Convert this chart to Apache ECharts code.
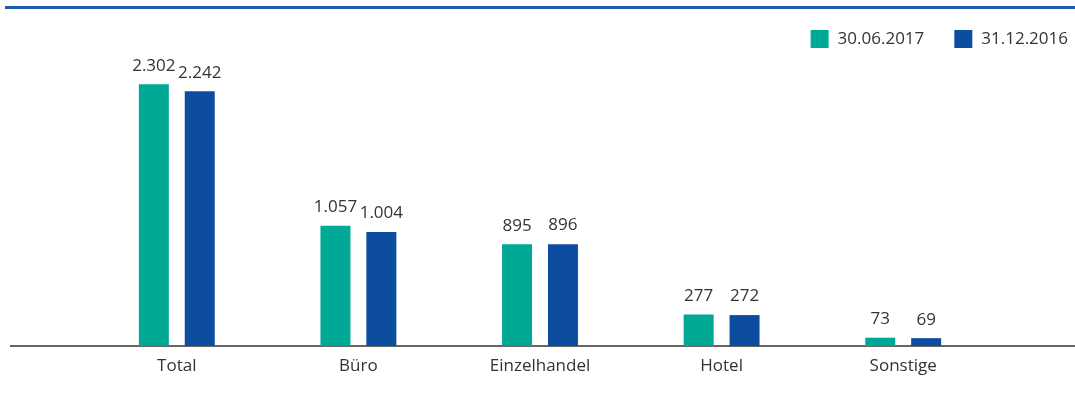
<!DOCTYPE html>
<html>
<head>
<meta charset="utf-8">
<script src="https://cdn.jsdelivr.net/npm/echarts@6/dist/echarts.min.js"></script>
<style>
    html, body { margin: 0; padding: 0; background: #fff; }
    #chart { width: 1075px; height: 405px; }
</style>
</head>
<body>
<div id="chart"></div>
<script>
const categories = ['Total', 'Büro', 'Einzelhandel', 'Hotel', 'Sonstige'];
const seriesNames = ['30.06.2017', '31.12.2016'];
const values2017 = [2302, 1057, 895, 277, 73];
const values2016 = [2242, 1004, 896, 272, 69];

const TEAL = '#00a995';
const BLUE = '#0d4da0';
const FONT = 'Open Sans';

// German thousands separator, e.g. 2302 -> 2.302
function formatDe(value) {
    return String(value).replace(/\B(?=(\d{3})+(?!\d))/g, '.');
}

const chart = echarts.init(document.getElementById('chart'));

const labelStyle = {
    show: true,
    position: 'top',
    distance: 10,
    color: '#333',
    fontSize: 17,
    fontFamily: FONT,
    formatter: params => formatDe(params.value)
};

const option = {
    animation: false,
    textStyle: { fontFamily: FONT },
    legend: {
        top: 25,
        right: 2,
        itemWidth: 18,
        itemHeight: 18,
        itemGap: 30,
        icon: 'rect',
        textStyle: { color: '#333', fontSize: 17, fontFamily: FONT, padding: [0, 0, 0, 4] }
    },
    grid: {
        left: 86,
        right: 81,
        top: 5,
        bottom: 59
    },
    xAxis: {
        type: 'category',
        data: categories,
        axisLine: { show: false },
        axisTick: { show: false },
        axisLabel: {
            margin: 12,
            color: '#333',
            fontSize: 17,
            fontFamily: FONT
        }
    },
    yAxis: {
        type: 'value',
        min: 0,
        max: 3000,
        show: false,
        splitLine: { show: false }
    },
    graphic: [
        {
            // blue rule across the top
            type: 'rect',
            shape: { x: 5, y: 6, width: 1070, height: 3 },
            style: { fill: '#1f5bab' }
        },
        {
            // baseline running the full width
            type: 'line',
            shape: { x1: 10, y1: 346, x2: 1075, y2: 346 },
            style: { stroke: '#333', lineWidth: 1.5 }
        }
    ],
    series: [
        {
            name: seriesNames[0],
            type: 'bar',
            data: values2017,
            barWidth: 30,
            barGap: '53%',
            itemStyle: { color: TEAL },
            label: labelStyle
        },
        {
            name: seriesNames[1],
            type: 'bar',
            data: values2016,
            barWidth: 30,
            barGap: '53%',
            itemStyle: { color: BLUE },
            label: labelStyle
        }
    ]
};

chart.setOption(option);
</script>
</body>
</html>
